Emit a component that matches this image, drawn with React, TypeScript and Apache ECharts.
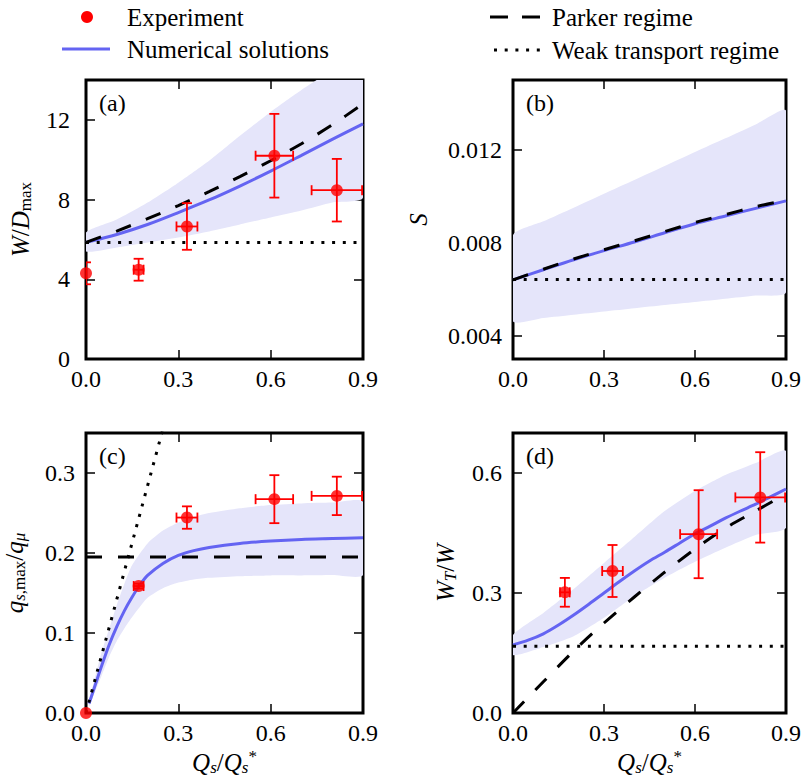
import React, { useEffect, useRef } from "react";
import * as echarts from "echarts";

const FONT = "'Liberation Serif', 'Times New Roman', serif";
const BLUE = "#6464f2";
const BAND = "#e5e5fa";
const RED = "#ff0000";

// shared experiment abscissae (Q_s / Q_s^*)
const expX = [0.0, 0.171, 0.328, 0.612, 0.815];
const expXErr = [0.0, 0.016, 0.034, 0.061, 0.082];
const xTicks = [0, 0.3, 0.6, 0.9];

// (a) W / D_max
const aExpY = [4.3, 4.48, 6.65, 10.2, 8.47];
const aExpYErr = [0.55, 0.55, 1.17, 2.1, 1.57];
const aNumX = [0, 0.1, 0.2, 0.3, 0.4, 0.5, 0.6, 0.7, 0.8, 0.9];
const aNumY = [5.85, 6.25, 6.75, 7.35, 7.98, 8.68, 9.43, 10.22, 11.02, 11.8];
const aBandUpper = [6.35, 7.0, 7.85, 8.85, 9.95, 11.2, 12.4, 13.5, 14.5, 15.4];
const aBandLower = [5.4, 5.6, 5.85, 6.1, 6.4, 6.75, 7.1, 7.45, 7.85, 8.1];
const aParkerX = [0, 0.1, 0.2, 0.3, 0.4, 0.5, 0.6, 0.7, 0.8, 0.9];
const aParkerY = [5.85, 6.42, 7.04, 7.7, 8.4, 9.15, 9.95, 10.8, 11.75, 12.8];
const aWeakY = 5.85;
const aYTicks = [0, 4, 8, 12];

// (b) S
const bNumX = [0, 0.1, 0.2, 0.3, 0.4, 0.5, 0.6, 0.7, 0.8, 0.9];
const bNumY = [0.0064, 0.00684, 0.00727, 0.00766, 0.00803, 0.00843, 0.00882, 0.00915, 0.00948, 0.0098];
const bBandUpper = [0.00832, 0.00892, 0.00951, 0.01011, 0.0107, 0.0113, 0.0119, 0.01249, 0.01309, 0.01368];
const bBandLower = [0.00462, 0.00476, 0.0049, 0.00504, 0.00518, 0.00532, 0.00545, 0.00559, 0.00573, 0.00587];
const bParkerX = [0, 0.1, 0.2, 0.3, 0.4, 0.5, 0.6, 0.7, 0.8, 0.87];
const bParkerY = [0.0064, 0.00686, 0.0073, 0.0077, 0.00808, 0.00848, 0.00887, 0.00921, 0.00955, 0.00975];
const bWeakY = 0.00642;
const bYTicks = [0.004, 0.008, 0.012];

// (c) q_s,max / q_mu
const cExpY = [0.0, 0.1587, 0.2443, 0.2673, 0.2714];
const cExpYErr = [0.0, 0.003, 0.014, 0.03, 0.024];
const cNumX = [0.01, 0.03, 0.05, 0.075, 0.1, 0.125, 0.15, 0.175, 0.2, 0.25, 0.3, 0.35, 0.4, 0.5, 0.6, 0.7, 0.8, 0.9];
const cNumY = [0.012, 0.035, 0.058, 0.085, 0.108, 0.128, 0.145, 0.16, 0.172, 0.187, 0.197, 0.203, 0.207, 0.212, 0.215, 0.217, 0.218, 0.219];
const cBandX = [0.01, 0.025, 0.05, 0.075, 0.1, 0.125, 0.15, 0.2, 0.25, 0.3, 0.35, 0.4, 0.5, 0.6, 0.7, 0.8, 0.9];
const cBandUpper = [0.015, 0.038, 0.075, 0.105, 0.135, 0.162, 0.185, 0.212, 0.228, 0.238, 0.245, 0.25, 0.256, 0.26, 0.262, 0.263, 0.264];
const cBandLower = [0.008, 0.022, 0.046, 0.07, 0.09, 0.106, 0.12, 0.144, 0.156, 0.163, 0.167, 0.169, 0.171, 0.172, 0.172, 0.1725, 0.1725];
const cParkerY = 0.195;
const cWeakX = [0, 0.25];
const cWeakY = [0, 0.355];
const cYTicks = [0, 0.1, 0.2, 0.3];

// (d) W_T / W
const dExpY = [0.3017, 0.355, 0.447, 0.539];
const dExpYErr = [0.036, 0.065, 0.11, 0.113];
const dNumX = [0, 0.05, 0.1, 0.15, 0.2, 0.25, 0.3, 0.35, 0.4, 0.45, 0.5, 0.55, 0.6, 0.65, 0.7, 0.75, 0.8, 0.85, 0.9];
const dNumY = [0.17, 0.182, 0.198, 0.22, 0.245, 0.272, 0.3, 0.328, 0.355, 0.38, 0.402, 0.425, 0.448, 0.467, 0.487, 0.505, 0.522, 0.541, 0.56];
const dBandX = [0, 0.1, 0.2, 0.3, 0.4, 0.5, 0.6, 0.7, 0.8, 0.9];
const dBandUpper = [0.195, 0.25, 0.31, 0.375, 0.44, 0.505, 0.555, 0.595, 0.625, 0.655];
const dBandLower = [0.145, 0.165, 0.192, 0.238, 0.292, 0.338, 0.378, 0.413, 0.445, 0.463];
const dParkerX = [0, 0.1, 0.2, 0.3, 0.4, 0.5, 0.6, 0.7, 0.8, 0.87];
const dParkerY = [0, 0.078, 0.155, 0.225, 0.29, 0.352, 0.41, 0.462, 0.505, 0.535];
const dWeakY = 0.167;
const dYTicks = [0, 0.3, 0.6];

const rich: any = {
  i: { fontFamily: FONT, fontStyle: "italic", fontSize: 25, color: "#000", lineHeight: 28 },
  r: { fontFamily: FONT, fontSize: 25, color: "#000", lineHeight: 28 },
  s: { fontFamily: FONT, fontSize: 17, color: "#000", lineHeight: 14, verticalAlign: "bottom" },
  si: { fontFamily: FONT, fontStyle: "italic", fontSize: 17, color: "#000", lineHeight: 14, verticalAlign: "bottom" },
  sp: { fontFamily: FONT, fontSize: 17, color: "#000", lineHeight: 14, verticalAlign: "top" },
};

const pairs = (xs: number[], ys: number[]) => xs.map((x, i) => [x, ys[i]]);

function makeBand(xs: number[], lo: number[], hi: number[], idx: number) {
  return {
    type: "custom",
    xAxisIndex: idx * 2,
    yAxisIndex: idx * 2,
    z: 1,
    silent: true,
    clip: true,
    data: [[xs[0], lo[0]]],
    encode: { x: 0, y: 1 },
    renderItem: (params: any, api: any) => {
      const pts: number[][] = [];
      for (let i = 0; i < xs.length; i++) pts.push(api.coord([xs[i], hi[i]]));
      for (let i = xs.length - 1; i >= 0; i--) pts.push(api.coord([xs[i], lo[i]]));
      const cs = params.coordSys;
      return {
        type: "polygon",
        shape: { points: pts, smooth: 0.2 },
        style: { fill: BAND, stroke: null },
        clipPath: { type: "rect", shape: { x: cs.x, y: cs.y, width: cs.width, height: cs.height } },
      };
    },
  };
}

function makeLine(data: number[][], idx: number, color: string, type: any, z: number, smooth = 0) {
  return {
    type: "line",
    xAxisIndex: idx * 2,
    yAxisIndex: idx * 2,
    data,
    symbol: "none",
    silent: true,
    smooth,
    z,
    lineStyle: { color, width: 3, type, cap: "butt" },
  };
}

function makeErr(xs: number[], ys: number[], xe: number[], ye: number[], idx: number) {
  return {
    type: "custom",
    xAxisIndex: idx * 2,
    yAxisIndex: idx * 2,
    z: 8,
    silent: true,
    clip: true,
    data: xs.map((x, i) => [x, ys[i], xe[i], ye[i]]),
    encode: { x: 0, y: 1 },
    renderItem: (params: any, api: any) => {
      const x = api.value(0), y = api.value(1), xer = api.value(2), yer = api.value(3);
      const st = { stroke: RED, lineWidth: 1.8 };
      const cap = 5;
      const ch: any[] = [];
      if (yer > 0) {
        const t = api.coord([x, y + yer]);
        const b = api.coord([x, y - yer]);
        ch.push({ type: "line", shape: { x1: t[0], y1: t[1], x2: b[0], y2: b[1] }, style: st });
        ch.push({ type: "line", shape: { x1: t[0] - cap, y1: t[1], x2: t[0] + cap, y2: t[1] }, style: st });
        ch.push({ type: "line", shape: { x1: b[0] - cap, y1: b[1], x2: b[0] + cap, y2: b[1] }, style: st });
      }
      if (xer > 0) {
        const l = api.coord([x - xer, y]);
        const r = api.coord([x + xer, y]);
        ch.push({ type: "line", shape: { x1: l[0], y1: l[1], x2: r[0], y2: r[1] }, style: st });
        ch.push({ type: "line", shape: { x1: l[0], y1: l[1] - cap, x2: l[0], y2: l[1] + cap }, style: st });
        ch.push({ type: "line", shape: { x1: r[0], y1: r[1] - cap, x2: r[0], y2: r[1] + cap }, style: st });
      }
      const cs = params.coordSys;
      return {
        type: "group",
        children: ch,
        clipPath: { type: "rect", shape: { x: cs.x, y: cs.y, width: cs.width, height: cs.height } },
      };
    },
  };
}

function makePts(xs: number[], ys: number[], idx: number) {
  return {
    type: "scatter",
    xAxisIndex: idx * 2,
    yAxisIndex: idx * 2,
    data: pairs(xs, ys),
    symbol: "circle",
    symbolSize: 12,
    itemStyle: { color: RED },
    z: 10,
    clip: false,
    silent: true,
  };
}

const panels = [
  { left: 86, top: 80, width: 277, height: 279, yMin: 0, yMax: 14, yTicks: aYTicks, yFmt: (v: number) => String(v), yName: "{i|W}{r|/}{i|D}{s|max}", yNameGap: 52, yLabelMargin: 16, xName: "", label: "(a)" },
  { left: 513, top: 80, width: 277, height: 279, yMin: 0.003, yMax: 0.015, yTicks: bYTicks, yFmt: (v: number) => v.toFixed(3), yName: "{i|S}", yNameGap: 81, yLabelMargin: 11, xName: "", label: "(b)" },
  { left: 86, top: 433, width: 277, height: 280, yMin: 0, yMax: 0.35, yTicks: cYTicks, yFmt: (v: number) => v.toFixed(1), yName: "{i|q}{si|s}{s|,max}{r|/}{i|q}{si|μ}", yNameGap: 58, yLabelMargin: 11, xName: "{i|Q}{si|s}{r|/}{i|Q}{si|s}{sp|*}", label: "(c)" },
  { left: 513, top: 433, width: 277, height: 280, yMin: 0, yMax: 0.7, yTicks: dYTicks, yFmt: (v: number) => v.toFixed(1), yName: "{i|W}{si|T}{r|/}{i|W}", yNameGap: 54, yLabelMargin: 11, xName: "{i|Q}{si|s}{r|/}{i|Q}{si|s}{sp|*}", label: "(d)" },
];

const tickStyle = { color: "#000", width: 1.5 };
const labelStyle = { fontFamily: FONT, fontSize: 24, color: "#000" };

function buildOption() {
  const grid: any[] = [];
  const xAxis: any[] = [];
  const yAxis: any[] = [];
  const graphic: any[] = [];
  panels.forEach((p, i) => {
    grid.push({ left: p.left, top: p.top, width: p.width, height: p.height, show: true, borderColor: "#000", borderWidth: 3, backgroundColor: "transparent" });
    for (const pos of ["bottom", "top"]) {
      const main = pos === "bottom";
      xAxis.push({
        type: "value", gridIndex: i, position: pos, min: 0, max: 0.9,
        axisLine: { show: false, onZero: false },
        axisTick: { show: true, inside: true, length: 9, lineStyle: tickStyle, customValues: xTicks },
        axisLabel: { show: main, customValues: xTicks, formatter: (v: number) => v.toFixed(1), margin: 8, ...labelStyle },
        splitLine: { show: false },
        name: main ? p.xName : "",
        nameLocation: "middle",
        nameGap: 35,
        nameTextStyle: { rich },
      });
    }
    for (const pos of ["left", "right"]) {
      const main = pos === "left";
      yAxis.push({
        type: "value", gridIndex: i, position: pos, min: p.yMin, max: p.yMax,
        axisLine: { show: false, onZero: false },
        axisTick: { show: true, inside: true, length: 9, lineStyle: tickStyle, customValues: p.yTicks },
        axisLabel: { show: main, customValues: p.yTicks, formatter: p.yFmt, margin: p.yLabelMargin, ...labelStyle },
        splitLine: { show: false },
        name: main ? p.yName : "",
        nameLocation: "middle",
        nameRotate: 90,
        nameGap: p.yNameGap,
        nameTextStyle: { rich },
      });
    }
    graphic.push({
      type: "text", left: p.left + 13, top: p.top + 11, z: 20,
      style: { text: p.label, fontFamily: FONT, fontSize: 24, fill: "#000" },
    });
  });

  // legend
  const lg = { fontFamily: FONT, fontSize: 25, fill: "#000", verticalAlign: "middle" };
  graphic.push(
    { type: "circle", shape: { cx: 87, cy: 17, r: 6 }, style: { fill: RED } },
    { type: "text", x: 127, y: 17, style: { text: "Experiment", ...lg } },
    { type: "line", shape: { x1: 62, y1: 49, x2: 110, y2: 49 }, style: { stroke: BLUE, lineWidth: 3 } },
    { type: "text", x: 127, y: 49, style: { text: "Numerical solutions", ...lg } },
    { type: "line", shape: { x1: 490, y1: 17, x2: 541, y2: 17 }, style: { stroke: "#000", lineWidth: 3, lineDash: [18, 14] } },
    { type: "text", x: 552, y: 17, style: { text: "Parker regime", ...lg } },
    { type: "line", shape: { x1: 494, y1: 50, x2: 541, y2: 50 }, style: { stroke: "#000", lineWidth: 3, lineDash: [3, 7.7] } },
    { type: "text", x: 552, y: 50, style: { text: "Weak transport regime", ...lg } },
  );

  const dash = [16, 16];
  const dot = [3, 7.7];
  const series: any[] = [
    // (a)
    makeBand(aNumX, aBandLower, aBandUpper, 0),
    makeLine(pairs(aNumX, aNumY), 0, BLUE, "solid", 3, 0.3),
    makeLine(pairs(aParkerX, aParkerY), 0, "#000", dash, 4, 0.3),
    makeLine([[0, aWeakY], [0.9, aWeakY]], 0, "#000", dot, 4),
    makeErr(expX, aExpY, expXErr, aExpYErr, 0),
    makePts(expX, aExpY, 0),
    // (b)
    makeBand(bNumX, bBandLower, bBandUpper, 1),
    makeLine(pairs(bNumX, bNumY), 1, BLUE, "solid", 3, 0.3),
    makeLine(pairs(bParkerX, bParkerY), 1, "#000", dash, 4, 0.3),
    makeLine([[0, bWeakY], [0.9, bWeakY]], 1, "#000", dot, 4),
    // (c)
    makeBand(cBandX, cBandLower, cBandUpper, 2),
    makeLine(pairs(cNumX, cNumY), 2, BLUE, "solid", 3, 0.3),
    makeLine([[0, cParkerY], [0.9, cParkerY]], 2, "#000", dash, 4),
    makeLine(pairs(cWeakX, cWeakY), 2, "#000", dot, 4),
    makeErr(expX, cExpY, expXErr, cExpYErr, 2),
    makePts(expX, cExpY, 2),
    // (d)
    makeBand(dBandX, dBandLower, dBandUpper, 3),
    makeLine(pairs(dNumX, dNumY), 3, BLUE, "solid", 3, 0.3),
    makeLine(pairs(dParkerX, dParkerY), 3, "#000", dash, 4, 0.3),
    makeLine([[0, dWeakY], [0.9, dWeakY]], 3, "#000", dot, 4),
    makeErr(expX.slice(1), dExpY, expXErr.slice(1), dExpYErr, 3),
    makePts(expX.slice(1), dExpY, 3),
  ];

  return {
    animation: false,
    backgroundColor: "#fff",
    textStyle: { fontFamily: FONT },
    grid,
    xAxis,
    yAxis,
    graphic,
    series,
  };
}

export default function App() {
  const ref = useRef<HTMLDivElement>(null);
  useEffect(() => {
    if (!ref.current) return;
    const chart = echarts.init(ref.current, undefined, { renderer: "svg" });
    chart.setOption(buildOption() as any);
    return () => chart.dispose();
  }, []);
  return <div ref={ref} style={{ position: "absolute", left: 0, top: 0, width: 804, height: 779 }} />;
}
